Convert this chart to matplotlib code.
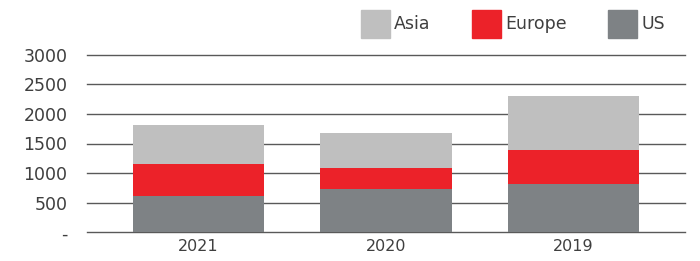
import numpy as np
import matplotlib
matplotlib.use("Agg")
import matplotlib.pyplot as plt
import matplotlib.patches as mpatches

# données
years = ["2021", "2020", "2019"]
us = [612, 731, 821]
europe = [542, 355, 569]
asia = [658, 591, 912]

series = ["Asia", "Europe", "US"]
COLORS = {"Asia": "#BFBFBF", "Europe": "#EC2229", "US": "#7E8285"}
TEXT = "#3F3F3F"

fig = plt.figure(figsize=(7.0, 2.61), dpi=100)
ax = fig.add_axes([87 / 700, 1 - 232.3 / 261, (685 - 87) / 700, (232.3 - 54.7) / 261])

x = np.arange(len(years))
w = 0.70
us_a = np.array(us)
eu_a = np.array(europe)
as_a = np.array(asia)
ax.bar(x, us_a, w, color=COLORS["US"], zorder=3)
ax.bar(x, eu_a, w, bottom=us_a, color=COLORS["Europe"], zorder=3)
ax.bar(x, as_a, w, bottom=us_a + eu_a, color=COLORS["Asia"], zorder=3)

ax.set_xlim(-0.595, 2.595)
ax.set_ylim(0, 3000)
yt = np.arange(0, 3001, 500)
ax.set_yticks(yt)
ax.set_yticklabels(["-"] + [str(v) for v in yt[1:]])
ax.set_xticks(x)
ax.set_xticklabels(years)
ax.tick_params(axis="y", length=0, pad=14, labelsize=12.5, labelcolor=TEXT)
ax.tick_params(axis="x", length=0, pad=5, labelsize=11.5, labelcolor=TEXT)
ax.spines[["top", "right", "left", "bottom"]].set_visible(False)
ax.grid(axis="y", color="#595959", linewidth=1.0, zorder=1)
ax.set_axisbelow(True)
for gl in ax.get_ygridlines():
    gl.set_clip_on(False)

handles = [mpatches.Patch(color=COLORS[s], label=s) for s in series]
fig.legend(handles=handles, loc="upper left", bbox_to_anchor=(361 / 700, 1 - 10 / 261),
           ncol=3, frameon=False, fontsize=12.5, labelcolor=TEXT,
           handlelength=1.65, handleheight=2.1, handletextpad=0.25,
           columnspacing=2.4, borderpad=0, borderaxespad=0)

fig.savefig("out.png", dpi=100, facecolor="white")
